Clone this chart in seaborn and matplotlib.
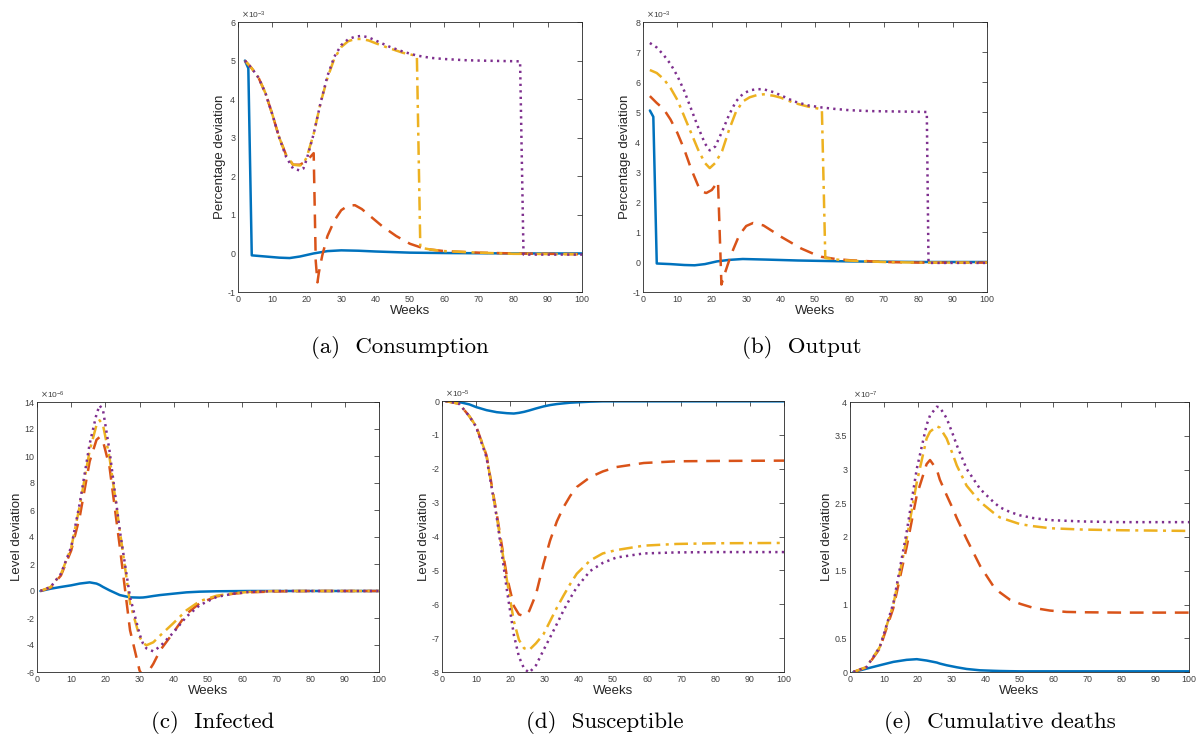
import matplotlib
matplotlib.use("Agg")
import matplotlib.pyplot as plt
import seaborn as sns
import pandas as pd

# ---------------- data (y in units of the panel's 10^k factor) ----------------
weeks_ticks = list(range(0, 101, 10))

# (a) Consumption, x10^-3
cons_blue_x = [2, 3, 4, 8, 12, 15, 18, 22, 26, 30, 35, 40, 50, 60, 80, 100]
cons_blue_y = [5.0, 4.8, -0.05, -0.08, -0.11, -0.12, -0.08, 0.0, 0.06, 0.08, 0.07, 0.05, 0.02, 0.01, 0.0, 0.0]
cons_orange_x = [2, 4, 6, 8, 10, 12, 14, 16, 18, 20, 21, 22, 22.6, 23.1, 23.5, 24.5, 26, 28, 30, 32, 34, 36, 38, 42, 46, 50, 53, 56, 60, 70, 80, 100]
cons_orange_y = [5.0, 4.8, 4.55, 4.15, 3.6, 3.0, 2.55, 2.3, 2.3, 2.4, 2.5, 2.6, -0.2, -0.75, -0.5, -0.05, 0.45, 0.85, 1.12, 1.24, 1.25, 1.15, 1.0, 0.7, 0.45, 0.25, 0.16, 0.1, 0.06, 0.02, 0.0, -0.02]
cons_yellow_x = [2, 4, 6, 8, 10, 12, 14, 16, 18, 19, 20, 22, 24, 26, 28, 30, 32, 34, 36, 38, 40, 44, 48, 52, 53, 56, 60, 70, 80, 100]
cons_yellow_y = [5.0, 4.8, 4.55, 4.15, 3.6, 3.0, 2.55, 2.3, 2.28, 2.32, 2.5, 3.1, 3.9, 4.55, 5.05, 5.35, 5.5, 5.56, 5.56, 5.52, 5.45, 5.32, 5.2, 5.12, 0.15, 0.1, 0.06, 0.02, -0.01, -0.02]
cons_purple_x = [2, 4, 6, 8, 10, 12, 14, 16, 18, 19, 20, 22, 24, 26, 28, 30, 32, 34, 36, 38, 40, 44, 48, 52, 56, 60, 66, 70, 76, 82, 83, 85, 100]
cons_purple_y = [5.0, 4.8, 4.55, 4.15, 3.6, 3.0, 2.5, 2.2, 2.15, 2.2, 2.45, 3.1, 3.9, 4.6, 5.1, 5.4, 5.55, 5.62, 5.64, 5.6, 5.52, 5.36, 5.23, 5.13, 5.07, 5.04, 5.01, 5.0, 4.99, 4.98, -0.03, -0.03, -0.03]

# (b) Output, x10^-3
out_blue_x = [2, 3, 4, 8, 12, 15, 18, 21.5, 25, 29, 36, 45, 60, 80, 100]
out_blue_y = [5.05, 4.84, -0.05, -0.07, -0.1, -0.11, -0.07, 0.02, 0.07, 0.1, 0.08, 0.05, 0.02, 0.0, 0.0]
out_orange_x = [2, 4, 6, 8, 10, 12, 14, 16, 17, 18.4, 20, 21.8, 22.8, 23.5, 24.8, 26.2, 28, 30, 32, 35, 38, 40, 43, 46, 50, 52, 56, 60, 70, 80, 100]
out_orange_y = [5.53, 5.3, 5.1, 4.75, 4.3, 3.75, 3.1, 2.55, 2.35, 2.3, 2.4, 2.68, -0.75, -0.48, -0.03, 0.41, 0.9, 1.2, 1.3, 1.22, 1.0, 0.85, 0.65, 0.45, 0.25, 0.17, 0.1, 0.06, 0.0, -0.02, -0.02]
out_yellow_x = [2, 4, 6, 8, 10, 12, 14, 16, 18, 19.4, 21, 23, 25, 27, 29, 31, 33, 35, 38, 40, 44, 48, 52, 53, 55, 58, 63, 70, 80, 100]
out_yellow_y = [6.4, 6.3, 6.1, 5.8, 5.4, 4.85, 4.3, 3.75, 3.3, 3.13, 3.3, 3.7, 4.4, 5.0, 5.35, 5.49, 5.56, 5.59, 5.54, 5.48, 5.3, 5.18, 5.09, 0.13, 0.1, 0.06, 0.03, 0.0, -0.02, -0.02]
out_purple_x = [2, 4, 6, 8, 10, 12, 14, 16, 18, 19.4, 21, 23, 25, 27, 29, 31, 33, 35, 38, 40, 44, 48, 52, 56, 60, 66, 72, 78, 82.5, 83, 85, 100]
out_purple_y = [7.3, 7.15, 6.9, 6.6, 6.2, 5.7, 5.1, 4.5, 3.95, 3.72, 3.85, 4.35, 4.9, 5.35, 5.6, 5.72, 5.76, 5.76, 5.66, 5.56, 5.35, 5.22, 5.15, 5.1, 5.06, 5.03, 5.02, 5.01, 5.0, -0.03, -0.03, -0.03]

# (c) Infected, x10^-6
inf_x = [1, 4, 7, 10, 12.5, 15.4, 17.4, 18.3, 19.3, 21.2, 24.2, 27.2, 30, 31, 32, 34, 36, 39.8, 43.7, 47.6, 52.5, 57.4, 62, 70, 80, 100]
inf_blue = [0, 0.17, 0.3, 0.42, 0.55, 0.64, 0.55, 0.45, 0.3, 0.05, -0.3, -0.47, -0.49, -0.48, -0.45, -0.37, -0.3, -0.2, -0.1, -0.05, -0.02, -0.01, 0.0, 0.0, 0.0, 0.0]
inf_orange = [0, 0.25, 1.15, 3.0, 5.5, 9.6, 11.2, 11.4, 11.1, 9.2, 3.3, -2.9, -5.9, -6.3, -6.2, -5.4, -4.4, -3.1, -1.7, -0.9, -0.4, -0.2, -0.1, -0.03, 0.0, 0.0]
inf_yellow = [0, 0.3, 1.25, 3.2, 6.3, 10.4, 12.3, 12.64, 12.3, 9.9, 4.5, -0.9, -3.4, -3.85, -4.02, -3.8, -3.3, -2.4, -1.43, -0.75, -0.35, -0.17, -0.07, 0.0, 0.0, 0.0]
inf_purple = [0, 0.3, 1.28, 3.26, 6.5, 10.9, 13.1, 13.75, 13.4, 10.4, 4.5, -0.44, -3.2, -3.9, -4.25, -4.47, -4.1, -3.1, -1.9, -1.05, -0.44, -0.2, -0.07, 0.0, 0.0, 0.0]

# (d) Susceptible, x10^-5
sus_x = [1, 5, 8, 10, 13, 16, 19, 21, 22.5, 24, 25.5, 27.5, 29.7, 31.6, 33.6, 35.5, 37.5, 39.4, 43.3, 47, 51, 59, 68.6, 80, 100]
sus_blue = [0, -0.03, -0.1, -0.18, -0.27, -0.33, -0.36, -0.37, -0.35, -0.32, -0.28, -0.22, -0.16, -0.12, -0.09, -0.07, -0.05, -0.04, -0.02, -0.01, -0.01, -0.01, -0.01, -0.01, -0.01]
sus_orange = [0, -0.08, -0.45, -0.75, -1.6, -3.33, -5.2, -6.05, -6.3, -6.35, -6.2, -5.7, -4.8, -4.12, -3.55, -3.14, -2.8, -2.54, -2.25, -2.08, -1.95, -1.83, -1.78, -1.77, -1.76]
sus_yellow = [0, -0.08, -0.45, -0.75, -1.6, -3.4, -5.3, -6.5, -7.05, -7.3, -7.35, -7.15, -6.88, -6.5, -6.1, -5.75, -5.4, -5.1, -4.71, -4.5, -4.4, -4.27, -4.22, -4.2, -4.19]
sus_purple = [0, -0.08, -0.45, -0.77, -1.66, -3.43, -5.6, -6.9, -7.55, -7.9, -8.02, -7.8, -7.35, -6.98, -6.58, -6.19, -5.82, -5.5, -5.02, -4.78, -4.62, -4.5, -4.47, -4.46, -4.46]

# (e) Cumulative deaths, x10^-7
dth_x = [1, 4.9, 8.8, 12.8, 16.7, 19.7, 22.6, 23.6, 25.6, 26.5, 28.5, 30.5, 31.5, 34.4, 38.4, 42.3, 44.2, 47.2, 50.2, 54.1, 59, 63.9, 68.8, 80, 100]
dth_blue = [0, 0.05, 0.1, 0.15, 0.18, 0.19, 0.17, 0.16, 0.14, 0.125, 0.1, 0.08, 0.07, 0.045, 0.025, 0.018, 0.015, 0.012, 0.01, 0.01, 0.01, 0.01, 0.01, 0.01, 0.01]
dth_orange = [0, 0.07, 0.35, 0.95, 1.85, 2.62, 3.08, 3.14, 3.0, 2.85, 2.62, 2.4, 2.28, 1.97, 1.57, 1.27, 1.18, 1.07, 1.01, 0.95, 0.91, 0.89, 0.885, 0.88, 0.88]
dth_yellow = [0, 0.075, 0.37, 1.0, 1.97, 2.81, 3.46, 3.56, 3.64, 3.62, 3.46, 3.2, 3.06, 2.76, 2.52, 2.36, 2.29, 2.24, 2.19, 2.16, 2.13, 2.12, 2.11, 2.1, 2.09]
dth_purple = [0, 0.075, 0.37, 1.02, 2.07, 3.01, 3.66, 3.8, 3.93, 3.92, 3.76, 3.5, 3.36, 3.01, 2.71, 2.52, 2.44, 2.37, 2.32, 2.28, 2.25, 2.24, 2.23, 2.22, 2.22]

captions = ["(a)  Consumption", "(b)  Output", "(c)  Infected", "(d)  Susceptible", "(e)  Cumulative deaths"]

# ---------------- styling ----------------
sns.set_style("white")
plt.rcParams["font.family"] = ["Liberation Sans", "DejaVu Sans"]
plt.rcParams["axes.unicode_minus"] = False

C_BLUE = "#0072BD"
C_ORANGE = "#D95319"
C_YELLOW = "#EDB120"
C_PURPLE = "#7E2F8E"
LW = 1.8
STYLES = {
    "blue": dict(color=C_BLUE, linestyle="-"),
    "orange": dict(color=C_ORANGE, linestyle=(0, (5.5, 3.5))),
    "yellow": dict(color=C_YELLOW, linestyle=(0, (5.5, 2.2, 1.2, 2.2))),
    "purple": dict(color=C_PURPLE, linestyle=(0, (0.9, 1.7))),
}

fig = plt.figure(figsize=(11.98, 7.42), dpi=100)
W, H = 1198, 742


def px_axes(left, top, right, bottom):
    return fig.add_axes([left / W, (H - bottom) / H, (right - left) / W, (bottom - top) / H])


def draw(ax, series, ylim, yticks, exponent, ylabel):
    for key, (xs, ys) in series:
        df = pd.DataFrame({"week": xs, "value": ys})
        sns.lineplot(data=df, x="week", y="value", ax=ax, estimator=None, sort=False,
                     lw=LW, **STYLES[key])
    ax.set_xlim(0, 100)
    ax.set_ylim(*ylim)
    ax.set_xticks(weeks_ticks)
    ax.set_yticks(yticks)
    ax.set_yticklabels([f"{t:g}" for t in yticks])
    ax.tick_params(direction="in", length=3.5, width=0.6, top=True, right=True,
                   labelsize=6.4, colors="#404040", pad=2)
    for s in ax.spines.values():
        s.set_color("#262626")
        s.set_linewidth(0.6)
    ax.set_xlabel("Weeks", fontsize=9.5, color="#262626", labelpad=1)
    ax.set_ylabel(ylabel, fontsize=9.5, color="#262626", labelpad=1)
    ax.text(0.01, 1.003, r"$\times\mathregular{10^{%d}}$" % exponent, transform=ax.transAxes,
            fontsize=6, color="#404040", ha="left", va="bottom")


ax_a = px_axes(238, 22, 582, 292)
draw(ax_a, [("blue", (cons_blue_x, cons_blue_y)), ("orange", (cons_orange_x, cons_orange_y)),
            ("yellow", (cons_yellow_x, cons_yellow_y)), ("purple", (cons_purple_x, cons_purple_y))],
     (-1, 6), list(range(-1, 7)), -3, "Percentage deviation")

ax_b = px_axes(643, 22, 987, 292)
draw(ax_b, [("blue", (out_blue_x, out_blue_y)), ("orange", (out_orange_x, out_orange_y)),
            ("yellow", (out_yellow_x, out_yellow_y)), ("purple", (out_purple_x, out_purple_y))],
     (-1, 8), list(range(-1, 9)), -3, "Percentage deviation")

ax_c = px_axes(37, 402, 379, 672)
draw(ax_c, [("blue", (inf_x, inf_blue)), ("orange", (inf_x, inf_orange)),
            ("yellow", (inf_x, inf_yellow)), ("purple", (inf_x, inf_purple))],
     (-6, 14), list(range(-6, 15, 2)), -6, "Level deviation")

ax_d = px_axes(442, 401, 784, 672)
draw(ax_d, [("blue", (sus_x, sus_blue)), ("orange", (sus_x, sus_orange)),
            ("yellow", (sus_x, sus_yellow)), ("purple", (sus_x, sus_purple))],
     (-8, 0), list(range(-8, 1)), -5, "Level deviation")

ax_e = px_axes(850, 402, 1189, 672)
draw(ax_e, [("blue", (dth_x, dth_blue)), ("orange", (dth_x, dth_orange)),
            ("yellow", (dth_x, dth_yellow)), ("purple", (dth_x, dth_purple))],
     (0, 4), [i * 0.5 for i in range(9)], -7, "Level deviation")

# captions under each panel
cap_pos = [(400, 348), (802, 348), (213, 722), (605, 722), (1000, 722)]
for text, (cx, cy) in zip(captions, cap_pos):
    fig.text(cx / W, (H - cy) / H, text, ha="center", va="center",
             fontsize=16.5, family=["cmr10", "DejaVu Serif"], color="black")

fig.savefig("out.png", dpi=100, facecolor="white")
